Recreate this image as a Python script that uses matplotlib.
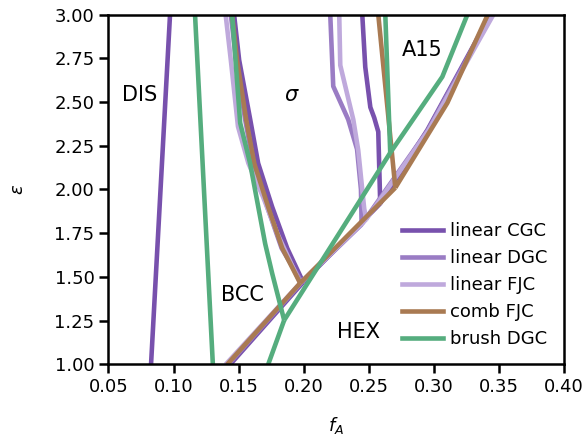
import matplotlib
matplotlib.use("Agg")
import matplotlib.pyplot as plt
from matplotlib.lines import Line2D

# ---- phase boundaries, (f_A, epsilon) pairs per boundary ----
# linear CGC
cgc_dis_f = [0.0827, 0.0973]
cgc_dis_e = [1.00, 3.00]
cgc_bcc_sig_f = [0.1465, 0.1504, 0.1589, 0.1650, 0.1758, 0.1873, 0.1996]
cgc_bcc_sig_e = [3.00, 2.74, 2.40, 2.15, 1.90, 1.665, 1.47]
cgc_bcc_hex_f = [0.1435, 0.1996]
cgc_bcc_hex_e = [1.00, 1.47]
cgc_sig_hex_f = [0.1996, 0.2588]
cgc_sig_hex_e = [1.47, 1.92]
cgc_sig_a15_f = [0.2450, 0.2473, 0.2512, 0.2542, 0.2573, 0.2588]
cgc_sig_a15_e = [3.00, 2.70, 2.47, 2.41, 2.33, 1.92]
cgc_a15_hex_f = [0.2588, 0.2950, 0.3435]
cgc_a15_hex_e = [1.92, 2.34, 3.00]

# linear DGC
dgc_bcc_sig_f = [0.1440, 0.1480, 0.1550, 0.1612, 0.1720, 0.1830, 0.1985]
dgc_bcc_sig_e = [3.00, 2.74, 2.40, 2.15, 1.90, 1.665, 1.47]
dgc_bcc_hex_f = [0.1420, 0.1985]
dgc_bcc_hex_e = [1.00, 1.47]
dgc_sig_hex_f = [0.1985, 0.2445]
dgc_sig_hex_e = [1.47, 1.80]
dgc_sig_a15_f = [0.2204, 0.2227, 0.2342, 0.2410, 0.2440, 0.2445]
dgc_sig_a15_e = [3.00, 2.59, 2.40, 2.23, 2.00, 1.80]
dgc_a15_hex_f = [0.2445, 0.2955, 0.3442]
dgc_a15_hex_e = [1.80, 2.34, 3.00]

# linear FJC
fjc_bcc_sig_f = [0.1400, 0.1440, 0.1495, 0.1575, 0.1688, 0.1796, 0.1973]
fjc_bcc_sig_e = [3.00, 2.74, 2.36, 2.15, 1.957, 1.75, 1.465]
fjc_bcc_hex_f = [0.1400, 0.1973]
fjc_bcc_hex_e = [1.00, 1.465]
fjc_sig_hex_f = [0.1973, 0.2481]
fjc_sig_hex_e = [1.465, 1.83]
fjc_sig_a15_f = [0.2273, 0.2281, 0.2381, 0.2419, 0.2465, 0.2481]
fjc_sig_a15_e = [3.00, 2.71, 2.40, 2.225, 1.89, 1.83]
fjc_a15_hex_f = [0.2481, 0.2960, 0.3458]
fjc_a15_hex_e = [1.83, 2.34, 3.00]

# comb FJC
comb_bcc_sig_f = [0.1450, 0.1488, 0.1558, 0.1620, 0.1727, 0.1835, 0.1973]
comb_bcc_sig_e = [3.00, 2.74, 2.40, 2.15, 1.90, 1.665, 1.465]
comb_bcc_hex_f = [0.1412, 0.1973]
comb_bcc_hex_e = [1.00, 1.465]
comb_sig_hex_f = [0.1973, 0.2704]
comb_sig_hex_e = [1.465, 2.01]
comb_sig_a15_f = [0.2573, 0.2704]
comb_sig_a15_e = [3.00, 2.01]
comb_a15_hex_f = [0.2704, 0.3104, 0.3415]
comb_a15_hex_e = [2.01, 2.495, 3.00]

# brush DGC
brush_dis_f = [0.1165, 0.1302]
brush_dis_e = [3.00, 1.00]
brush_bcc_sig_f = [0.1450, 0.1512, 0.1588, 0.1704, 0.1758, 0.1850]
brush_bcc_sig_e = [3.00, 2.38, 2.15, 1.69, 1.52, 1.253]
brush_bcc_hex_f = [0.1727, 0.1850]
brush_bcc_hex_e = [1.00, 1.253]
brush_sig_hex_f = [0.1850, 0.2665]
brush_sig_hex_e = [1.253, 2.21]
brush_sig_a15_f = [0.2627, 0.2665]
brush_sig_a15_e = [3.00, 2.21]
brush_a15_hex_f = [0.2665, 0.3065, 0.3258]
brush_a15_hex_e = [2.21, 2.644, 3.00]

series_names = ["linear CGC", "linear DGC", "linear FJC", "comb FJC", "brush DGC"]
series_colors = ["#7851ad", "#9a7cc4", "#bfa9dc", "#a97a52", "#55ad7e"]

boundaries = [
    [(cgc_dis_f, cgc_dis_e), (cgc_bcc_sig_f, cgc_bcc_sig_e), (cgc_bcc_hex_f, cgc_bcc_hex_e),
     (cgc_sig_hex_f, cgc_sig_hex_e), (cgc_sig_a15_f, cgc_sig_a15_e), (cgc_a15_hex_f, cgc_a15_hex_e)],
    [(dgc_bcc_sig_f, dgc_bcc_sig_e), (dgc_bcc_hex_f, dgc_bcc_hex_e), (dgc_sig_hex_f, dgc_sig_hex_e),
     (dgc_sig_a15_f, dgc_sig_a15_e), (dgc_a15_hex_f, dgc_a15_hex_e)],
    [(fjc_bcc_sig_f, fjc_bcc_sig_e), (fjc_bcc_hex_f, fjc_bcc_hex_e), (fjc_sig_hex_f, fjc_sig_hex_e),
     (fjc_sig_a15_f, fjc_sig_a15_e), (fjc_a15_hex_f, fjc_a15_hex_e)],
    [(comb_bcc_sig_f, comb_bcc_sig_e), (comb_bcc_hex_f, comb_bcc_hex_e), (comb_sig_hex_f, comb_sig_hex_e),
     (comb_sig_a15_f, comb_sig_a15_e), (comb_a15_hex_f, comb_a15_hex_e)],
    [(brush_dis_f, brush_dis_e), (brush_bcc_sig_f, brush_bcc_sig_e), (brush_bcc_hex_f, brush_bcc_hex_e),
     (brush_sig_hex_f, brush_sig_hex_e), (brush_sig_a15_f, brush_sig_a15_e), (brush_a15_hex_f, brush_a15_hex_e)],
]

phase_names = ["DIS", r"$\sigma$", "A15", "BCC", "HEX"]
phase_f = [0.0743, 0.1912, 0.2912, 0.1527, 0.2419]
phase_e = [2.54, 2.54, 2.80, 1.397, 1.185]

x_ticks = [0.05, 0.10, 0.15, 0.20, 0.25, 0.30, 0.35, 0.40]
y_ticks = [1.00, 1.25, 1.50, 1.75, 2.00, 2.25, 2.50, 2.75, 3.00]

plt.rcParams["font.family"] = "DejaVu Sans"
fig = plt.figure(figsize=(5.87, 4.41), dpi=100)
ax = fig.add_axes([0.1848, 0.1735, 0.776, 0.7936])

lw = 3.3
for segs, color in zip(boundaries, series_colors):
    for f, e in segs:
        ax.plot(f, e, color=color, lw=lw, solid_capstyle="butt")

for name, f, e in zip(phase_names, phase_f, phase_e):
    ax.text(f, e, name, fontsize=15, ha="center", va="center")

ax.set_xlim(0.05, 0.40)
ax.set_ylim(1.0, 3.0)
ax.set_xticks(x_ticks)
ax.set_yticks(y_ticks)
ax.set_xticklabels([f"{v:.2f}" for v in x_ticks])
ax.set_yticklabels([f"{v:.2f}" for v in y_ticks])
ax.tick_params(labelsize=13, length=6.5, width=1.8)
for sp in ax.spines.values():
    sp.set_linewidth(1.8)

# axis titles
fig.text(336 / 587, 1 - 425 / 441, r"$f_A$", fontsize=13, ha="center", va="center")
fig.text(18 / 587, 1 - 189 / 441, r"$\varepsilon$", fontsize=13, ha="center", va="center",
         rotation=90)

handles = [Line2D([0], [0], color=c, lw=lw) for c in series_colors]
ax.legend(handles, series_names, loc="lower right", frameon=False, fontsize=13,
          handlelength=2.3, labelspacing=0.5, borderaxespad=0.5, handletextpad=0.4)

fig.savefig("out.png", dpi=100)
